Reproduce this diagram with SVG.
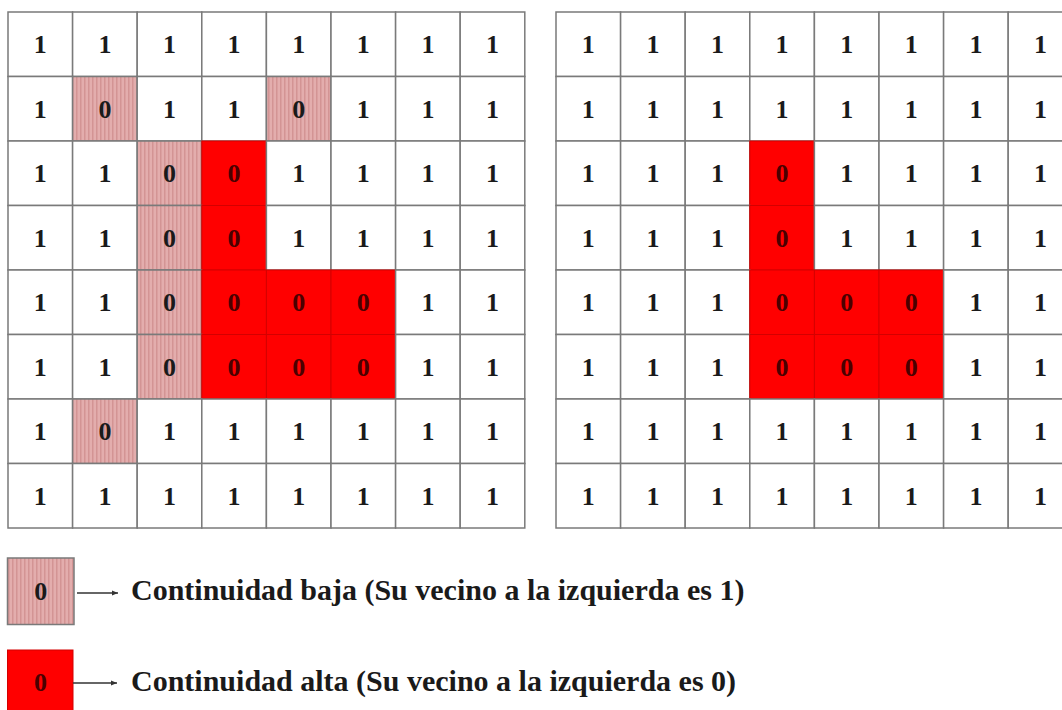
<svg xmlns="http://www.w3.org/2000/svg" width="1062" height="710" viewBox="0 0 1062 710">
<style>
.c{fill:#fff;stroke:#7a7a7a;stroke-width:1.5}
.p{fill:url(#stripe);stroke:#7a7a7a;stroke-width:1.5}
.r{fill:#ff0000;stroke:#d40000;stroke-width:1}
.t{font-family:"Liberation Serif","Times New Roman",serif;font-weight:bold;font-size:26px;fill:#1a1a1a;text-anchor:middle}
.tr{fill:#4a0000}
.lg{font-family:"Liberation Serif","Times New Roman",serif;font-weight:bold;font-size:30px;fill:#1a1a1a}
.ar{stroke:#333;stroke-width:1.3;fill:none}
</style>
<defs>
<pattern id="stripe" width="4" height="4" patternUnits="userSpaceOnUse">
<rect width="4" height="4" fill="#e3adad"/>
<rect width="1.5" height="4" fill="#d39494"/>
</pattern>
<marker id="ah" markerWidth="8" markerHeight="8" refX="6" refY="4" orient="auto" markerUnits="userSpaceOnUse">
<path d="M0,1.5 L6,4 L0,6.5 Z" fill="#333"/>
</marker>
</defs>
<rect width="1062" height="710" fill="#fff"/>

<g id="grid-left">
<!-- row 0 -->
<rect class="c" x="8" y="12" width="64.6" height="64.5"/><text class="t" x="40.3" y="53">1</text>
<rect class="c" x="72.6" y="12" width="64.6" height="64.5"/><text class="t" x="104.9" y="53">1</text>
<rect class="c" x="137.2" y="12" width="64.6" height="64.5"/><text class="t" x="169.5" y="53">1</text>
<rect class="c" x="201.8" y="12" width="64.6" height="64.5"/><text class="t" x="234.1" y="53">1</text>
<rect class="c" x="266.4" y="12" width="64.6" height="64.5"/><text class="t" x="298.7" y="53">1</text>
<rect class="c" x="331" y="12" width="64.6" height="64.5"/><text class="t" x="363.3" y="53">1</text>
<rect class="c" x="395.6" y="12" width="64.6" height="64.5"/><text class="t" x="427.9" y="53">1</text>
<rect class="c" x="460.2" y="12" width="64.6" height="64.5"/><text class="t" x="492.5" y="53">1</text>
<!-- row 1 -->
<rect class="c" x="8" y="76.5" width="64.6" height="64.5"/><text class="t" x="40.3" y="117.5">1</text>
<rect class="p" x="72.6" y="76.5" width="64.6" height="64.5"/><text class="t" x="104.9" y="117.5">0</text>
<rect class="c" x="137.2" y="76.5" width="64.6" height="64.5"/><text class="t" x="169.5" y="117.5">1</text>
<rect class="c" x="201.8" y="76.5" width="64.6" height="64.5"/><text class="t" x="234.1" y="117.5">1</text>
<rect class="p" x="266.4" y="76.5" width="64.6" height="64.5"/><text class="t" x="298.7" y="117.5">0</text>
<rect class="c" x="331" y="76.5" width="64.6" height="64.5"/><text class="t" x="363.3" y="117.5">1</text>
<rect class="c" x="395.6" y="76.5" width="64.6" height="64.5"/><text class="t" x="427.9" y="117.5">1</text>
<rect class="c" x="460.2" y="76.5" width="64.6" height="64.5"/><text class="t" x="492.5" y="117.5">1</text>
<!-- row 2 -->
<rect class="c" x="8" y="141" width="64.6" height="64.5"/><text class="t" x="40.3" y="182">1</text>
<rect class="c" x="72.6" y="141" width="64.6" height="64.5"/><text class="t" x="104.9" y="182">1</text>
<rect class="p" x="137.2" y="141" width="64.6" height="64.5"/><text class="t" x="169.5" y="182">0</text>
<rect class="r" x="201.8" y="141" width="64.6" height="64.5"/><text class="t tr" x="234.1" y="182">0</text>
<rect class="c" x="266.4" y="141" width="64.6" height="64.5"/><text class="t" x="298.7" y="182">1</text>
<rect class="c" x="331" y="141" width="64.6" height="64.5"/><text class="t" x="363.3" y="182">1</text>
<rect class="c" x="395.6" y="141" width="64.6" height="64.5"/><text class="t" x="427.9" y="182">1</text>
<rect class="c" x="460.2" y="141" width="64.6" height="64.5"/><text class="t" x="492.5" y="182">1</text>
<!-- row 3 -->
<rect class="c" x="8" y="205.5" width="64.6" height="64.5"/><text class="t" x="40.3" y="246.5">1</text>
<rect class="c" x="72.6" y="205.5" width="64.6" height="64.5"/><text class="t" x="104.9" y="246.5">1</text>
<rect class="p" x="137.2" y="205.5" width="64.6" height="64.5"/><text class="t" x="169.5" y="246.5">0</text>
<rect class="r" x="201.8" y="205.5" width="64.6" height="64.5"/><text class="t tr" x="234.1" y="246.5">0</text>
<rect class="c" x="266.4" y="205.5" width="64.6" height="64.5"/><text class="t" x="298.7" y="246.5">1</text>
<rect class="c" x="331" y="205.5" width="64.6" height="64.5"/><text class="t" x="363.3" y="246.5">1</text>
<rect class="c" x="395.6" y="205.5" width="64.6" height="64.5"/><text class="t" x="427.9" y="246.5">1</text>
<rect class="c" x="460.2" y="205.5" width="64.6" height="64.5"/><text class="t" x="492.5" y="246.5">1</text>
<!-- row 4 -->
<rect class="c" x="8" y="270" width="64.6" height="64.5"/><text class="t" x="40.3" y="311">1</text>
<rect class="c" x="72.6" y="270" width="64.6" height="64.5"/><text class="t" x="104.9" y="311">1</text>
<rect class="p" x="137.2" y="270" width="64.6" height="64.5"/><text class="t" x="169.5" y="311">0</text>
<rect class="r" x="201.8" y="270" width="64.6" height="64.5"/><text class="t tr" x="234.1" y="311">0</text>
<rect class="r" x="266.4" y="270" width="64.6" height="64.5"/><text class="t tr" x="298.7" y="311">0</text>
<rect class="r" x="331" y="270" width="64.6" height="64.5"/><text class="t tr" x="363.3" y="311">0</text>
<rect class="c" x="395.6" y="270" width="64.6" height="64.5"/><text class="t" x="427.9" y="311">1</text>
<rect class="c" x="460.2" y="270" width="64.6" height="64.5"/><text class="t" x="492.5" y="311">1</text>
<!-- row 5 -->
<rect class="c" x="8" y="334.5" width="64.6" height="64.5"/><text class="t" x="40.3" y="375.5">1</text>
<rect class="c" x="72.6" y="334.5" width="64.6" height="64.5"/><text class="t" x="104.9" y="375.5">1</text>
<rect class="p" x="137.2" y="334.5" width="64.6" height="64.5"/><text class="t" x="169.5" y="375.5">0</text>
<rect class="r" x="201.8" y="334.5" width="64.6" height="64.5"/><text class="t tr" x="234.1" y="375.5">0</text>
<rect class="r" x="266.4" y="334.5" width="64.6" height="64.5"/><text class="t tr" x="298.7" y="375.5">0</text>
<rect class="r" x="331" y="334.5" width="64.6" height="64.5"/><text class="t tr" x="363.3" y="375.5">0</text>
<rect class="c" x="395.6" y="334.5" width="64.6" height="64.5"/><text class="t" x="427.9" y="375.5">1</text>
<rect class="c" x="460.2" y="334.5" width="64.6" height="64.5"/><text class="t" x="492.5" y="375.5">1</text>
<!-- row 6 -->
<rect class="c" x="8" y="399" width="64.6" height="64.5"/><text class="t" x="40.3" y="440">1</text>
<rect class="p" x="72.6" y="399" width="64.6" height="64.5"/><text class="t" x="104.9" y="440">0</text>
<rect class="c" x="137.2" y="399" width="64.6" height="64.5"/><text class="t" x="169.5" y="440">1</text>
<rect class="c" x="201.8" y="399" width="64.6" height="64.5"/><text class="t" x="234.1" y="440">1</text>
<rect class="c" x="266.4" y="399" width="64.6" height="64.5"/><text class="t" x="298.7" y="440">1</text>
<rect class="c" x="331" y="399" width="64.6" height="64.5"/><text class="t" x="363.3" y="440">1</text>
<rect class="c" x="395.6" y="399" width="64.6" height="64.5"/><text class="t" x="427.9" y="440">1</text>
<rect class="c" x="460.2" y="399" width="64.6" height="64.5"/><text class="t" x="492.5" y="440">1</text>
<!-- row 7 -->
<rect class="c" x="8" y="463.5" width="64.6" height="64.5"/><text class="t" x="40.3" y="504.5">1</text>
<rect class="c" x="72.6" y="463.5" width="64.6" height="64.5"/><text class="t" x="104.9" y="504.5">1</text>
<rect class="c" x="137.2" y="463.5" width="64.6" height="64.5"/><text class="t" x="169.5" y="504.5">1</text>
<rect class="c" x="201.8" y="463.5" width="64.6" height="64.5"/><text class="t" x="234.1" y="504.5">1</text>
<rect class="c" x="266.4" y="463.5" width="64.6" height="64.5"/><text class="t" x="298.7" y="504.5">1</text>
<rect class="c" x="331" y="463.5" width="64.6" height="64.5"/><text class="t" x="363.3" y="504.5">1</text>
<rect class="c" x="395.6" y="463.5" width="64.6" height="64.5"/><text class="t" x="427.9" y="504.5">1</text>
<rect class="c" x="460.2" y="463.5" width="64.6" height="64.5"/><text class="t" x="492.5" y="504.5">1</text>
</g>

<g id="grid-right">
<!-- row 0 -->
<rect class="c" x="556" y="12" width="64.6" height="64.5"/><text class="t" x="588.3" y="53">1</text>
<rect class="c" x="620.6" y="12" width="64.6" height="64.5"/><text class="t" x="652.9" y="53">1</text>
<rect class="c" x="685.2" y="12" width="64.6" height="64.5"/><text class="t" x="717.5" y="53">1</text>
<rect class="c" x="749.8" y="12" width="64.6" height="64.5"/><text class="t" x="782.1" y="53">1</text>
<rect class="c" x="814.4" y="12" width="64.6" height="64.5"/><text class="t" x="846.7" y="53">1</text>
<rect class="c" x="879" y="12" width="64.6" height="64.5"/><text class="t" x="911.3" y="53">1</text>
<rect class="c" x="943.6" y="12" width="64.6" height="64.5"/><text class="t" x="975.9" y="53">1</text>
<rect class="c" x="1008.2" y="12" width="64.6" height="64.5"/><text class="t" x="1040.5" y="53">1</text>
<!-- row 1 -->
<rect class="c" x="556" y="76.5" width="64.6" height="64.5"/><text class="t" x="588.3" y="117.5">1</text>
<rect class="c" x="620.6" y="76.5" width="64.6" height="64.5"/><text class="t" x="652.9" y="117.5">1</text>
<rect class="c" x="685.2" y="76.5" width="64.6" height="64.5"/><text class="t" x="717.5" y="117.5">1</text>
<rect class="c" x="749.8" y="76.5" width="64.6" height="64.5"/><text class="t" x="782.1" y="117.5">1</text>
<rect class="c" x="814.4" y="76.5" width="64.6" height="64.5"/><text class="t" x="846.7" y="117.5">1</text>
<rect class="c" x="879" y="76.5" width="64.6" height="64.5"/><text class="t" x="911.3" y="117.5">1</text>
<rect class="c" x="943.6" y="76.5" width="64.6" height="64.5"/><text class="t" x="975.9" y="117.5">1</text>
<rect class="c" x="1008.2" y="76.5" width="64.6" height="64.5"/><text class="t" x="1040.5" y="117.5">1</text>
<!-- row 2 -->
<rect class="c" x="556" y="141" width="64.6" height="64.5"/><text class="t" x="588.3" y="182">1</text>
<rect class="c" x="620.6" y="141" width="64.6" height="64.5"/><text class="t" x="652.9" y="182">1</text>
<rect class="c" x="685.2" y="141" width="64.6" height="64.5"/><text class="t" x="717.5" y="182">1</text>
<rect class="r" x="749.8" y="141" width="64.6" height="64.5"/><text class="t tr" x="782.1" y="182">0</text>
<rect class="c" x="814.4" y="141" width="64.6" height="64.5"/><text class="t" x="846.7" y="182">1</text>
<rect class="c" x="879" y="141" width="64.6" height="64.5"/><text class="t" x="911.3" y="182">1</text>
<rect class="c" x="943.6" y="141" width="64.6" height="64.5"/><text class="t" x="975.9" y="182">1</text>
<rect class="c" x="1008.2" y="141" width="64.6" height="64.5"/><text class="t" x="1040.5" y="182">1</text>
<!-- row 3 -->
<rect class="c" x="556" y="205.5" width="64.6" height="64.5"/><text class="t" x="588.3" y="246.5">1</text>
<rect class="c" x="620.6" y="205.5" width="64.6" height="64.5"/><text class="t" x="652.9" y="246.5">1</text>
<rect class="c" x="685.2" y="205.5" width="64.6" height="64.5"/><text class="t" x="717.5" y="246.5">1</text>
<rect class="r" x="749.8" y="205.5" width="64.6" height="64.5"/><text class="t tr" x="782.1" y="246.5">0</text>
<rect class="c" x="814.4" y="205.5" width="64.6" height="64.5"/><text class="t" x="846.7" y="246.5">1</text>
<rect class="c" x="879" y="205.5" width="64.6" height="64.5"/><text class="t" x="911.3" y="246.5">1</text>
<rect class="c" x="943.6" y="205.5" width="64.6" height="64.5"/><text class="t" x="975.9" y="246.5">1</text>
<rect class="c" x="1008.2" y="205.5" width="64.6" height="64.5"/><text class="t" x="1040.5" y="246.5">1</text>
<!-- row 4 -->
<rect class="c" x="556" y="270" width="64.6" height="64.5"/><text class="t" x="588.3" y="311">1</text>
<rect class="c" x="620.6" y="270" width="64.6" height="64.5"/><text class="t" x="652.9" y="311">1</text>
<rect class="c" x="685.2" y="270" width="64.6" height="64.5"/><text class="t" x="717.5" y="311">1</text>
<rect class="r" x="749.8" y="270" width="64.6" height="64.5"/><text class="t tr" x="782.1" y="311">0</text>
<rect class="r" x="814.4" y="270" width="64.6" height="64.5"/><text class="t tr" x="846.7" y="311">0</text>
<rect class="r" x="879" y="270" width="64.6" height="64.5"/><text class="t tr" x="911.3" y="311">0</text>
<rect class="c" x="943.6" y="270" width="64.6" height="64.5"/><text class="t" x="975.9" y="311">1</text>
<rect class="c" x="1008.2" y="270" width="64.6" height="64.5"/><text class="t" x="1040.5" y="311">1</text>
<!-- row 5 -->
<rect class="c" x="556" y="334.5" width="64.6" height="64.5"/><text class="t" x="588.3" y="375.5">1</text>
<rect class="c" x="620.6" y="334.5" width="64.6" height="64.5"/><text class="t" x="652.9" y="375.5">1</text>
<rect class="c" x="685.2" y="334.5" width="64.6" height="64.5"/><text class="t" x="717.5" y="375.5">1</text>
<rect class="r" x="749.8" y="334.5" width="64.6" height="64.5"/><text class="t tr" x="782.1" y="375.5">0</text>
<rect class="r" x="814.4" y="334.5" width="64.6" height="64.5"/><text class="t tr" x="846.7" y="375.5">0</text>
<rect class="r" x="879" y="334.5" width="64.6" height="64.5"/><text class="t tr" x="911.3" y="375.5">0</text>
<rect class="c" x="943.6" y="334.5" width="64.6" height="64.5"/><text class="t" x="975.9" y="375.5">1</text>
<rect class="c" x="1008.2" y="334.5" width="64.6" height="64.5"/><text class="t" x="1040.5" y="375.5">1</text>
<!-- row 6 -->
<rect class="c" x="556" y="399" width="64.6" height="64.5"/><text class="t" x="588.3" y="440">1</text>
<rect class="c" x="620.6" y="399" width="64.6" height="64.5"/><text class="t" x="652.9" y="440">1</text>
<rect class="c" x="685.2" y="399" width="64.6" height="64.5"/><text class="t" x="717.5" y="440">1</text>
<rect class="c" x="749.8" y="399" width="64.6" height="64.5"/><text class="t" x="782.1" y="440">1</text>
<rect class="c" x="814.4" y="399" width="64.6" height="64.5"/><text class="t" x="846.7" y="440">1</text>
<rect class="c" x="879" y="399" width="64.6" height="64.5"/><text class="t" x="911.3" y="440">1</text>
<rect class="c" x="943.6" y="399" width="64.6" height="64.5"/><text class="t" x="975.9" y="440">1</text>
<rect class="c" x="1008.2" y="399" width="64.6" height="64.5"/><text class="t" x="1040.5" y="440">1</text>
<!-- row 7 -->
<rect class="c" x="556" y="463.5" width="64.6" height="64.5"/><text class="t" x="588.3" y="504.5">1</text>
<rect class="c" x="620.6" y="463.5" width="64.6" height="64.5"/><text class="t" x="652.9" y="504.5">1</text>
<rect class="c" x="685.2" y="463.5" width="64.6" height="64.5"/><text class="t" x="717.5" y="504.5">1</text>
<rect class="c" x="749.8" y="463.5" width="64.6" height="64.5"/><text class="t" x="782.1" y="504.5">1</text>
<rect class="c" x="814.4" y="463.5" width="64.6" height="64.5"/><text class="t" x="846.7" y="504.5">1</text>
<rect class="c" x="879" y="463.5" width="64.6" height="64.5"/><text class="t" x="911.3" y="504.5">1</text>
<rect class="c" x="943.6" y="463.5" width="64.6" height="64.5"/><text class="t" x="975.9" y="504.5">1</text>
<rect class="c" x="1008.2" y="463.5" width="64.6" height="64.5"/><text class="t" x="1040.5" y="504.5">1</text>
</g>

<g id="legend-low">
<rect class="p" x="7.5" y="558" width="66.5" height="66.5"/>
<text class="t" x="40.7" y="600">0</text>
<text class="lg" x="131" y="600">Continuidad baja (Su vecino a la izquierda es 1)</text>
</g>
<g id="legend-high">
<rect class="r" x="7.5" y="650" width="65.5" height="70"/>
<text class="t tr" x="40.5" y="690.5">0</text>
<text class="lg" x="131" y="691">Continuidad alta (Su vecino a la izquierda es 0)</text>
</g>
<g id="connectors">
<line class="ar" x1="77" y1="593" x2="118" y2="593" marker-end="url(#ah)"/>
<line class="ar" x1="73" y1="683" x2="117" y2="683" marker-end="url(#ah)"/>
</g>
</svg>
